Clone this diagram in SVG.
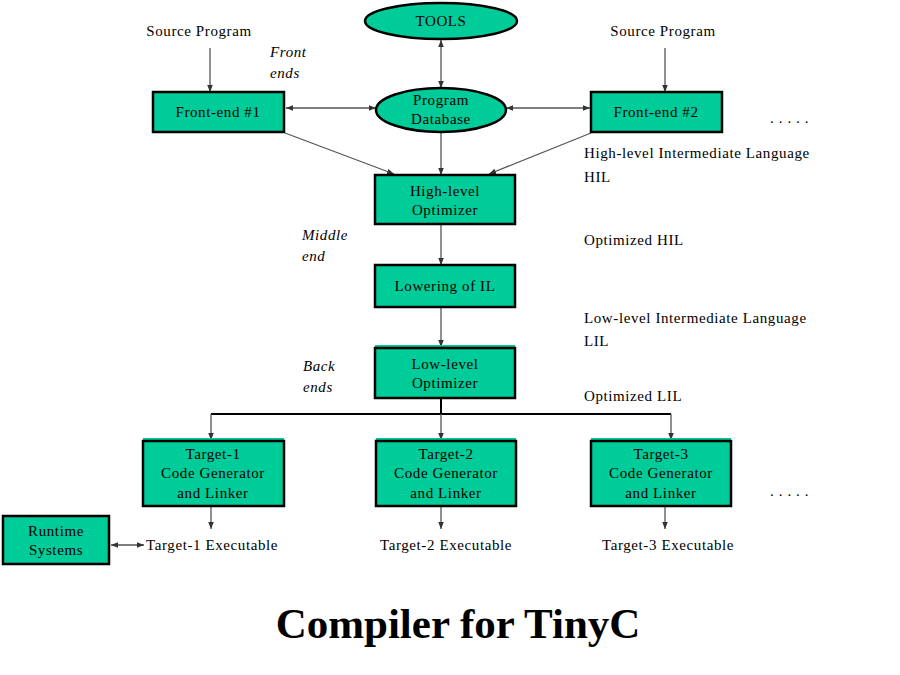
<svg xmlns="http://www.w3.org/2000/svg" width="900" height="675" viewBox="0 0 900 675">
<style>
.box{fill:#00CC99;stroke:#000;stroke-width:2.5}
.t{font-family:"Liberation Serif",serif;font-size:15px;letter-spacing:0.6px;fill:#000}
.c{text-anchor:middle}
.i{font-style:italic}
.ln{stroke:#555;stroke-width:1.3;fill:none}
.bus{stroke:#000;stroke-width:2;fill:none}
</style>
<defs>
<marker id="ah" viewBox="0 0 10 10" refX="10" refY="5" markerWidth="7" markerHeight="7" orient="auto-start-reverse" markerUnits="userSpaceOnUse">
<path d="M0,1 L10,5 L0,9 z" fill="#333"/>
</marker>
</defs>
<rect width="900" height="675" fill="#fff"/>
<g id="connectors">
<line class="ln" x1="210" y1="48" x2="210" y2="92" marker-end="url(#ah)"/>
<line class="ln" x1="665" y1="48" x2="665" y2="92" marker-end="url(#ah)"/>
<line class="ln" x1="441" y1="40" x2="441" y2="88" marker-start="url(#ah)" marker-end="url(#ah)"/>
<line class="ln" x1="286" y1="108" x2="376" y2="108" marker-start="url(#ah)" marker-end="url(#ah)"/>
<line class="ln" x1="506" y1="108" x2="590" y2="108" marker-start="url(#ah)" marker-end="url(#ah)"/>
<line class="ln" x1="285" y1="133" x2="394" y2="174" marker-end="url(#ah)"/>
<line class="ln" x1="591" y1="133" x2="489" y2="174" marker-end="url(#ah)"/>
<line class="ln" x1="441" y1="132" x2="441" y2="175" marker-end="url(#ah)"/>
<line class="ln" x1="441" y1="224" x2="441" y2="265" marker-end="url(#ah)"/>
<line class="ln" x1="441" y1="307" x2="441" y2="347" marker-end="url(#ah)"/>
<line class="bus" x1="441" y1="398" x2="441" y2="414"/>
<line class="bus" x1="211" y1="414" x2="671" y2="414"/>
<line class="ln" x1="211" y1="414" x2="211" y2="440" marker-end="url(#ah)"/>
<line class="ln" x1="441" y1="414" x2="441" y2="440" marker-end="url(#ah)"/>
<line class="ln" x1="671" y1="414" x2="671" y2="440" marker-end="url(#ah)"/>
<line class="ln" x1="211" y1="506" x2="211" y2="529" marker-end="url(#ah)"/>
<line class="ln" x1="441" y1="506" x2="441" y2="529" marker-end="url(#ah)"/>
<line class="ln" x1="665" y1="506" x2="665" y2="529" marker-end="url(#ah)"/>
<line class="ln" x1="111" y1="545" x2="144" y2="545" marker-start="url(#ah)" marker-end="url(#ah)"/>
</g>
<g id="tools"><ellipse class="box" cx="441" cy="21" rx="76" ry="18"/><text class="t c" x="441" y="26">TOOLS</text></g>
<g id="progdb"><ellipse class="box" cx="441" cy="110" rx="65" ry="22"/><text class="t c" x="441" y="105">Program</text><text class="t c" x="441" y="124">Database</text></g>
<g id="fe1"><rect class="box" x="153" y="92" width="131" height="40"/><text class="t c" x="218" y="117">Front-end #1</text></g>
<g id="fe2"><rect class="box" x="591" y="92" width="131" height="40"/><text class="t c" x="656" y="117">Front-end #2</text></g>
<g id="hlo"><rect class="box" x="375" y="175" width="140" height="49"/><text class="t c" x="445" y="196">High-level</text><text class="t c" x="445" y="215">Optimizer</text></g>
<g id="lower"><rect class="box" x="375" y="265" width="140" height="42"/><text class="t c" x="445" y="291">Lowering of IL</text></g>
<g id="llo"><line x1="375" y1="346" x2="515" y2="346" stroke="#00CC99" stroke-width="2"/><rect class="box" x="375" y="348" width="140" height="50"/><text class="t c" x="445" y="369">Low-level</text><text class="t c" x="445" y="388">Optimizer</text></g>
<g id="tg1"><line x1="143" y1="439" x2="284" y2="439" stroke="#00CC99" stroke-width="2"/><rect class="box" x="143" y="441" width="141" height="65"/><text class="t c" x="213" y="459">Target-1</text><text class="t c" x="213" y="478">Code Generator</text><text class="t c" x="213" y="498">and Linker</text></g>
<g id="tg2"><line x1="376" y1="439" x2="516" y2="439" stroke="#00CC99" stroke-width="2"/><rect class="box" x="376" y="441" width="140" height="65"/><text class="t c" x="446" y="459">Target-2</text><text class="t c" x="446" y="478">Code Generator</text><text class="t c" x="446" y="498">and Linker</text></g>
<g id="tg3"><line x1="591" y1="439" x2="731" y2="439" stroke="#00CC99" stroke-width="2"/><rect class="box" x="591" y="441" width="140" height="65"/><text class="t c" x="661" y="459">Target-3</text><text class="t c" x="661" y="478">Code Generator</text><text class="t c" x="661" y="498">and Linker</text></g>
<g id="runtime"><rect class="box" x="3" y="516" width="106" height="48"/><text class="t c" x="56" y="536">Runtime</text><text class="t c" x="56" y="555">Systems</text></g>
<g id="labels">
<text class="t c" x="199" y="36">Source Program</text>
<text class="t c" x="663" y="36">Source Program</text>
<text class="t i" x="270" y="57">Front</text>
<text class="t i" x="270" y="78">ends</text>
<text class="t" x="770" y="123">. . . . .</text>
<text class="t" x="584" y="158">High-level Intermediate Language</text>
<text class="t" x="584" y="182">HIL</text>
<text class="t i" x="302" y="240">Middle</text>
<text class="t i" x="302" y="261">end</text>
<text class="t" x="584" y="245">Optimized HIL</text>
<text class="t" x="584" y="323">Low-level Intermediate Language</text>
<text class="t" x="584" y="346">LIL</text>
<text class="t i" x="303" y="371">Back</text>
<text class="t i" x="303" y="392">ends</text>
<text class="t" x="584" y="401">Optimized LIL</text>
<text class="t" x="770" y="496">. . . . .</text>
<text class="t" x="146" y="550">Target-1 Executable</text>
<text class="t c" x="446" y="550">Target-2 Executable</text>
<text class="t c" x="668" y="550">Target-3 Executable</text>
<text x="458" y="638" text-anchor="middle" font-family="Liberation Serif, serif" font-weight="bold" font-size="43">Compiler for TinyC</text>
</g>
</svg>
